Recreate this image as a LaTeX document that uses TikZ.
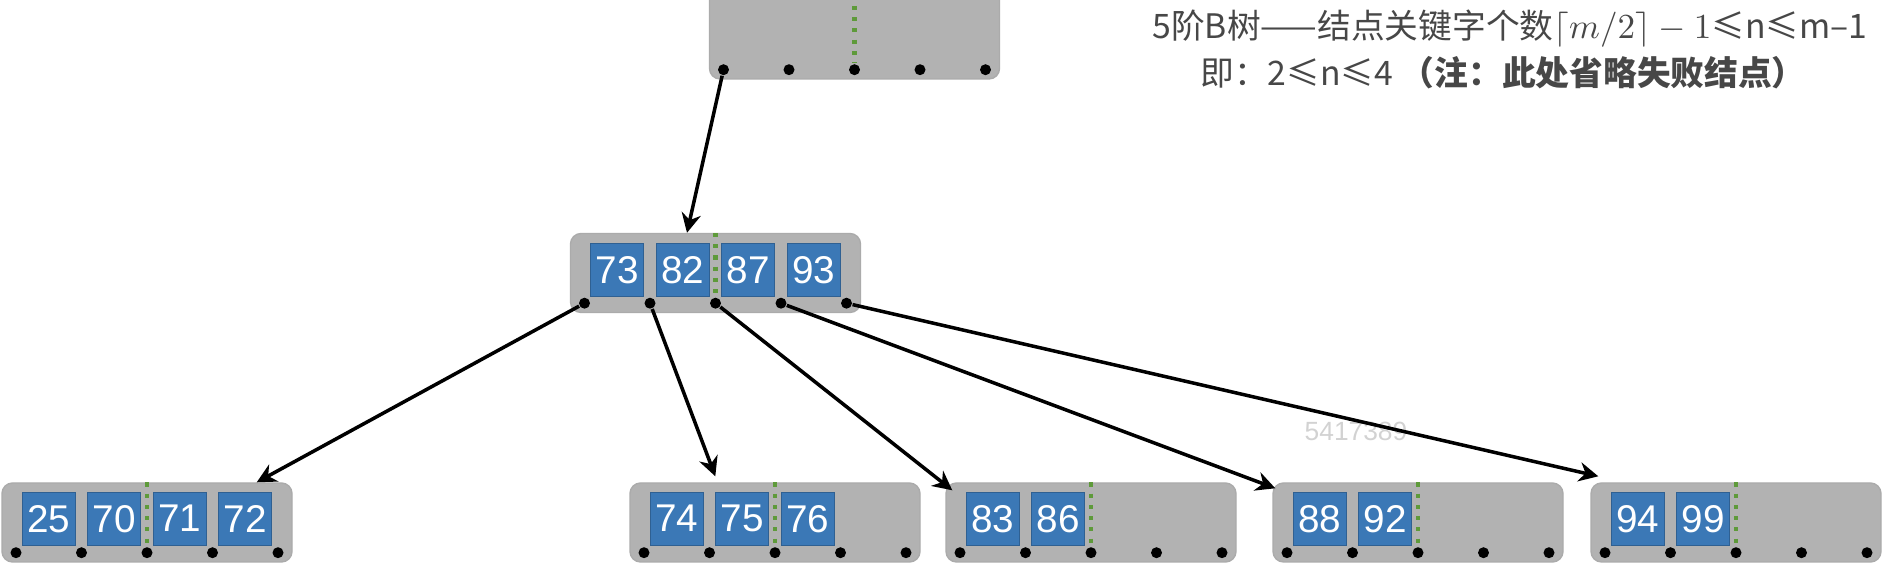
\documentclass[tikz,border=0pt]{standalone}
\usepackage{fontspec}
\setmainfont{Liberation Sans}
\newfontfamily\cjk{Noto Sans CJK SC}
\usetikzlibrary{arrows.meta,positioning,calc}

\begin{document}
\begin{tikzpicture}[
  >={Stealth[length=5.5pt,width=5.5pt]},
  bnode/.style={rectangle,rounded corners=3pt,fill=gray!60,draw=gray!66,
                line width=0.4pt,minimum width=29mm,minimum height=7.9mm,inner sep=0pt},
  key/.style={rectangle,fill=ckey,draw=ckey!80!black,line width=0.3pt,
              minimum size=5.3mm,inner sep=0pt,text=white,
              font=\fontsize{11pt}{12pt}\selectfont},
  dot/.style={circle,fill=black,inner sep=0pt,minimum size=1.1mm},
  link/.style={->,line width=1pt},
  divider/.style={dotted,line width=1.2pt,draw=cdiv},
  note/.style={text=black!72,font=\cjk\fontsize{9.6pt}{12pt}\selectfont},
]
  \definecolor{ckey}{HTML}{3B78B6}
  \definecolor{cdiv}{HTML}{5E9A3A}

  \clip (0,0) rectangle (18.84,5.63);

  % nodes
  \node[bnode,minimum height=9.5mm] (top) at (8.545,5.315) {};
  \node[bnode] (mid) at (7.155,2.90) {};
  \node[bnode] (lf1) at (1.47,0.405) {};
  \node[bnode] (lf2) at (7.75,0.405) {};
  \node[bnode] (lf3) at (10.91,0.405) {};
  \node[bnode] (lf4) at (14.18,0.405) {};
  \node[bnode] (lf5) at (17.36,0.405) {};

  % pointer slots and middle divider
  \foreach \nn in {top,mid,lf1,lf2,lf3,lf4,lf5}{
    \foreach \i/\dx in {1/-1.31,2/-0.655,3/0,4/0.655,5/1.31}
      \node[dot] (\nn-\i) at ($(\nn.south)+(\dx,0.10)$) {};
    \draw[divider] (\nn.north) -- (\nn-3.north);
  }

  % keys
  \node[key] (k73) at ($(mid-1)!0.5!(mid-2)+(0,0.335)$) {73};
  \node[key] (k82) at ($(mid-2)!0.5!(mid-3)+(0,0.335)$) {82};
  \node[key] (k87) at ($(mid-3)!0.5!(mid-4)+(0,0.335)$) {87};
  \node[key] (k93) at ($(mid-4)!0.5!(mid-5)+(0,0.335)$) {93};

  \node[key] (k25) at ($(lf1-1)!0.5!(lf1-2)+(0,0.34)$) {25};
  \node[key] (k70) at ($(lf1-2)!0.5!(lf1-3)+(0,0.34)$) {70};
  \node[key] (k71) at ($(lf1-3)!0.5!(lf1-4)+(0,0.34)$) {71};
  \node[key] (k72) at ($(lf1-4)!0.5!(lf1-5)+(0,0.34)$) {72};

  \node[key] (k74) at ($(lf2-1)!0.5!(lf2-2)+(0,0.34)$) {74};
  \node[key] (k75) at ($(lf2-2)!0.5!(lf2-3)+(0,0.34)$) {75};
  \node[key] (k76) at ($(lf2-3)!0.5!(lf2-4)+(0,0.34)$) {76};

  \node[key] (k83) at ($(lf3-1)!0.5!(lf3-2)+(0,0.34)$) {83};
  \node[key] (k86) at ($(lf3-2)!0.5!(lf3-3)+(0,0.34)$) {86};

  \node[key] (k88) at ($(lf4-1)!0.5!(lf4-2)+(0,0.34)$) {88};
  \node[key] (k92) at ($(lf4-2)!0.5!(lf4-3)+(0,0.34)$) {92};

  \node[key] (k94) at ($(lf5-1)!0.5!(lf5-2)+(0,0.34)$) {94};
  \node[key] (k99) at ($(lf5-2)!0.5!(lf5-3)+(0,0.34)$) {99};

  % notes
  \node[note] (rule) at (15.10,5.34)
    {5阶B树——结点关键字个数$\lceil m/2\rceil-1$≤n≤m–1};
  \node[note] (range) at (15.03,4.90)
    {即：2≤n≤4 {\bfseries （注：此处省略失败结点）}};
  \node[text=gray!35,font=\fontsize{7.5pt}{9pt}\selectfont] (mark) at (13.56,1.32) {5417389};

  % child pointers
  \draw[link] (top-1) -- ([xshift=-2.85mm]mid.north);
  \draw[link] (mid-1) -- ([xshift=-3.6mm]lf1.north east);
  \draw[link] (mid-2) -- ([shift={(8.6mm,0.6mm)}]lf2.north west);
  \draw[link] (mid-3) -- ([shift={(0.7mm,-0.8mm)}]lf3.north west);
  \draw[link] (mid-4) -- ([shift={(0.3mm,-0.6mm)}]lf4.north west);
  \draw[link] (mid-5) -- ([shift={(0.8mm,0.6mm)}]lf5.north west);
\end{tikzpicture}
\end{document}
